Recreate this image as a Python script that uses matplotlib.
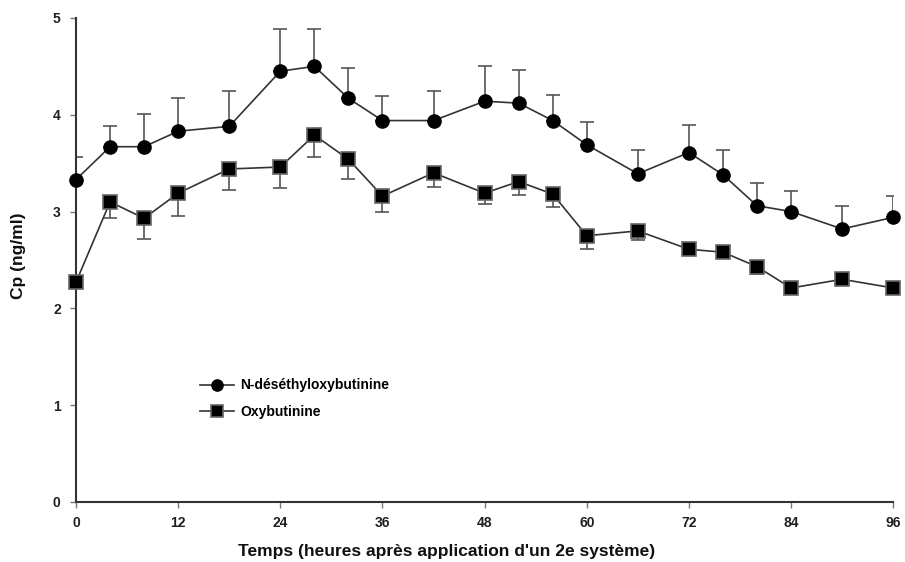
import numpy as np
import matplotlib.pyplot as plt

# temps (h)
temps = [0, 4, 8, 12, 18, 24, 28, 32, 36, 42, 48, 52, 56, 60, 66, 72, 76, 80, 84, 90, 96]

# N-desethyloxybutinine : moyenne et haut de la barre d'erreur
ndeo = [3.33, 3.67, 3.67, 3.83, 3.88, 4.45, 4.50, 4.17, 3.94, 3.94, 4.14, 4.12,
        3.94, 3.69, 3.39, 3.61, 3.38, 3.06, 3.00, 2.82, 2.94]
ndeo_haut = [3.56, 3.88, 4.01, 4.17, 4.25, 4.89, 4.89, 4.48, 4.19, 4.25, 4.50, 4.46,
             4.20, 3.93, 3.64, 3.89, 3.64, 3.29, 3.21, 3.06, 3.16]

# Oxybutinine : moyenne et bas de la barre d'erreur
oxy = [2.27, 3.10, 2.93, 3.19, 3.44, 3.46, 3.79, 3.54, 3.16, 3.40, 3.19, 3.31,
       3.18, 2.75, 2.80, 2.61, 2.58, 2.43, 2.21, 2.30, 2.21]
oxy_bas = [2.27, 2.93, 2.72, 2.95, 3.22, 3.24, 3.56, 3.34, 3.00, 3.25, 3.08, 3.17,
           3.05, 2.61, 2.71, 2.56, 2.53, 2.35, 2.21, 2.30, 2.21]

xticks = [0, 12, 24, 36, 48, 60, 72, 84, 96]
yticks = [0, 1, 2, 3, 4, 5]

plt.rcParams['font.family'] = ['Liberation Sans', 'DejaVu Sans']

tickFont = {'size': 10, 'weight': 'bold', 'color': '#202020'}
axesFont = {'size': 12.5, 'weight': 'bold', 'color': '#101010'}

X = np.array(temps)
Y1 = np.array(ndeo)
Y2 = np.array(oxy)
err1 = [np.zeros(len(X)), np.array(ndeo_haut) - Y1]
err2 = [Y2 - np.array(oxy_bas), np.zeros(len(X))]

fig = plt.figure(figsize=(9.05, 5.62), dpi=100)
ax = fig.add_axes([0.084, 0.107, 0.903, 0.861])

# barres d'erreur
ax.errorbar(X, Y1, yerr=err1, fmt='none', ecolor='#555555', elinewidth=1.2,
            capsize=5, capthick=1.2, zorder=2)
ax.errorbar(X, Y2, yerr=err2, fmt='none', ecolor='#555555', elinewidth=1.2,
            capsize=5, capthick=1.2, zorder=2)

ax.plot(X, Y1, color='#333333', lw=1.2, marker='o', markersize=9.5,
        markerfacecolor='black', markeredgecolor='black',
        label='N-déséthyloxybutinine', zorder=3, clip_on=False)
ax.plot(X, Y2, color='#333333', lw=1.2, marker='s', markersize=9.5,
        markerfacecolor='black', markeredgecolor='#666666', markeredgewidth=1.2,
        label='Oxybutinine', zorder=3, clip_on=False)

ax.set_xlim(0, 96)
ax.set_ylim(0, 5)
ax.spines['top'].set_visible(False)
ax.spines['right'].set_visible(False)
ax.spines['left'].set_color('#333333')
ax.spines['bottom'].set_color('#333333')
ax.spines['left'].set_linewidth(1.5)
ax.spines['bottom'].set_linewidth(1.5)

ax.set_xticks(xticks)
ax.set_yticks(yticks)
ax.set_xticklabels([str(t) for t in xticks], fontdict=tickFont)
ax.set_yticklabels([str(t) for t in yticks], fontdict=tickFont)
ax.tick_params(axis='both', direction='out', length=4, width=1, color='#777777')
ax.tick_params(axis='x', pad=6)
ax.tick_params(axis='y', pad=7)

ax.set_xlabel("Temps (heures après application d'un 2e système)", fontdict=axesFont)
ax.set_ylabel('Cp (ng/ml)', fontdict=axesFont)
# le titre de l'axe x est decale vers la gauche dans l'original
ax.xaxis.set_label_coords(0.453, -0.087)
ax.yaxis.set_label_coords(-0.061, 0.508)

ax.legend(loc='upper left', bbox_to_anchor=(0.136, 0.281), frameon=False,
          prop={'size': 10, 'weight': 'bold'}, handlelength=2.5,
          handletextpad=0.4, labelspacing=0.9, markerscale=0.85)

plt.savefig('out.png', dpi=100)
